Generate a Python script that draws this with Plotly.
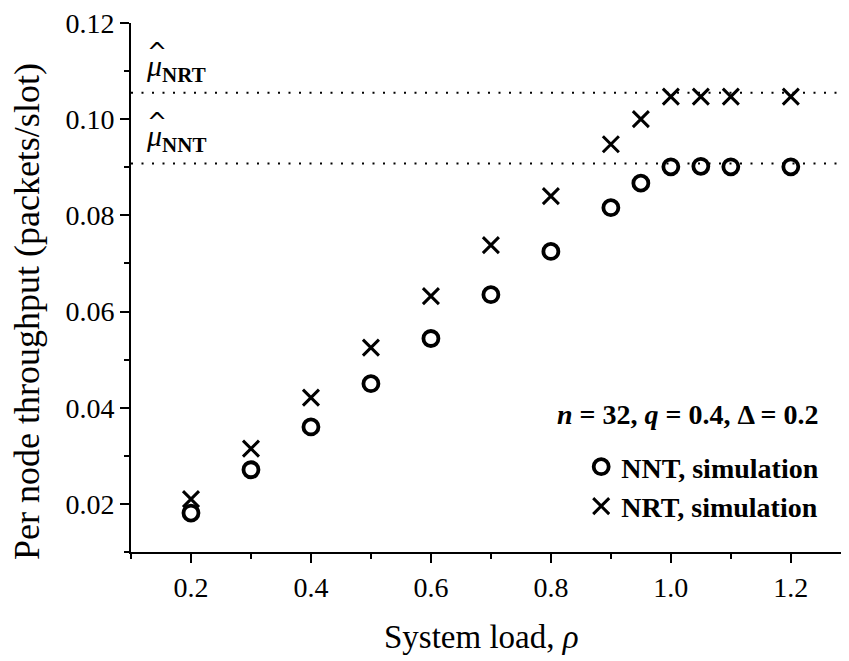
import plotly.graph_objects as go

load = [0.2, 0.3, 0.4, 0.5, 0.6, 0.7, 0.8, 0.9, 0.95, 1.0, 1.05, 1.1, 1.2]
nnt_sim = [0.0181, 0.0271, 0.0360, 0.0450, 0.0544, 0.0635, 0.0725, 0.0816, 0.0867, 0.0901, 0.0902, 0.0901, 0.0901]
nrt_sim = [0.0210, 0.0315, 0.0421, 0.0525, 0.0632, 0.0738, 0.0840, 0.0948, 0.1000, 0.1047, 0.1047, 0.1047, 0.1047]
mu_nnt = 0.0908
mu_nrt = 0.1055
x_range = [0.1, 1.297]
y_range = [0.01, 0.12]
x_ticks = [0.2, 0.4, 0.6, 0.8, 1.0, 1.2]
x_ticklabels = ["0.2", "0.4", "0.6", "0.8", "1.0", "1.2"]
y_ticks = [0.02, 0.04, 0.06, 0.08, 0.10, 0.12]
y_ticklabels = ["0.02", "0.04", "0.06", "0.08", "0.10", "0.12"]

FONT = "Liberation Serif"

fig = go.Figure()

fig.add_trace(go.Scatter(x=x_range, y=[mu_nrt, mu_nrt], mode="lines",
                         line=dict(color="black", width=2, dash="2px,8.5px"),
                         showlegend=False, hoverinfo="skip"))
fig.add_trace(go.Scatter(x=x_range, y=[mu_nnt, mu_nnt], mode="lines",
                         line=dict(color="black", width=2, dash="2px,8.5px"),
                         showlegend=False, hoverinfo="skip"))

fig.add_trace(go.Scatter(x=load, y=nnt_sim, mode="markers", name="NNT, simulation",
                         marker=dict(symbol="circle-open", size=15, color="black",
                                     line=dict(width=3.8, color="black"))))
fig.add_trace(go.Scatter(x=load, y=nrt_sim, mode="markers", name="NRT, simulation",
                         marker=dict(symbol="x-thin-open", size=16, color="black",
                                     line=dict(width=3, color="black"))))

# page body has an 8px margin, so the figure is 8px smaller and margins shifted
fig.update_layout(
    template="none",
    width=841, height=653,
    margin=dict(l=123, r=0, t=15, b=109, pad=0),
    plot_bgcolor="white", paper_bgcolor="white",
    font=dict(family=FONT, color="black", size=28),
    showlegend=True,
    legend=dict(x=0.627, y=0.208, xanchor="left", yanchor="top",
                bgcolor="rgba(0,0,0,0)", borderwidth=0,
                font=dict(family=FONT, size=28, color="black", weight="bold"),
                tracegroupgap=0),
    xaxis=dict(range=x_range, showline=True, linecolor="black", linewidth=2, automargin=False,
               ticks="outside", ticklen=9, tickwidth=2, tickcolor="black",
               tickvals=x_ticks, ticktext=x_ticklabels, showgrid=False, zeroline=False,
               tickfont=dict(family=FONT, size=28), ticklabeloverflow="allow",
               minor=dict(tickvals=[0.1, 0.3, 0.5, 0.7, 0.9, 1.1], ticklen=5, tickwidth=2,
                          tickcolor="black", ticks="outside", showgrid=False)),
    yaxis=dict(range=y_range, showline=True, linecolor="black", linewidth=2, automargin=False,
               ticks="outside", ticklen=9, tickwidth=2, tickcolor="black",
               tickvals=y_ticks, ticktext=y_ticklabels, showgrid=False, zeroline=False,
               tickfont=dict(family=FONT, size=28), ticklabeloverflow="allow",
               minor=dict(tickvals=[0.01, 0.03, 0.05, 0.07, 0.09, 0.11], ticklen=5, tickwidth=2,
                          tickcolor="black", ticks="outside", showgrid=False)),
)

# axis titles
fig.add_annotation(x=0.4875, y=-0.1607, xref="paper", yref="paper", xanchor="center", yanchor="middle",
                   text="System load, <i>ρ</i>", showarrow=False,
                   font=dict(family=FONT, size=33, color="black"))
fig.add_annotation(x=-0.1448, y=0.4537, xref="paper", yref="paper", xanchor="center", yanchor="middle",
                   text="Per node throughput (packets/slot)", showarrow=False, textangle=-90,
                   font=dict(family=FONT, size=36, color="black"))

fig.add_annotation(x=1.027, y=0.0385, xref="x", yref="y", xanchor="center", yanchor="middle",
                   text="<b><i>n</i> = 32, <i>q</i> = 0.4, Δ = 0.2</b>", showarrow=False,
                   font=dict(family=FONT, size=28, color="black"))

# mu-hat labels
for yv, sub in [(mu_nrt, "NRT"), (mu_nnt, "NNT")]:
    fig.add_annotation(x=0.122, y=yv, xref="x", yref="y", xanchor="left", yanchor="bottom",
                       text="<i>μ</i><sub><b>" + sub + "</b></sub>", showarrow=False, yshift=4,
                       font=dict(family=FONT, size=30, color="black"))
    fig.add_annotation(x=0.143, y=yv, xref="x", yref="y", xanchor="center", yanchor="middle",
                       text="^", showarrow=False, yshift=41,
                       font=dict(family="DejaVu Sans", size=24, color="black"))

fig.write_html("out.html")
